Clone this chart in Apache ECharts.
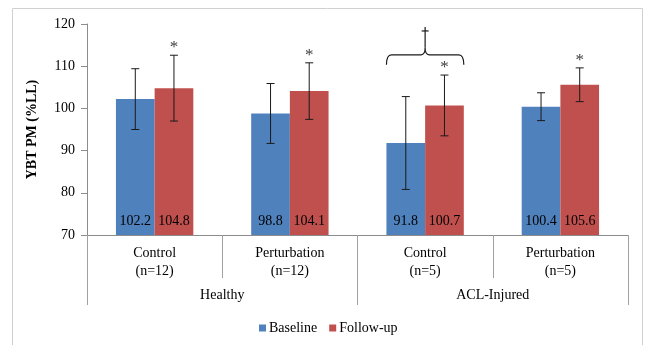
<!DOCTYPE html>
<html>
<head>
<meta charset="utf-8">
<script src="https://cdn.jsdelivr.net/npm/echarts@6/dist/echarts.min.js"></script>
<style>
  html, body { margin: 0; padding: 0; background: #fff; }
  #main { width: 646px; height: 345px; }
</style>
</head>
<body>
<div id="main"></div>
<script>
const categories = ['Control\n(n=12)', 'Perturbation\n(n=12)', 'Control\n(n=5)', 'Perturbation\n(n=5)']
const groups = ['Healthy', 'ACL-Injured']
const baseline = [102.2, 98.8, 91.8, 100.4]
const followUp = [104.8, 104.1, 100.7, 105.6]
const baselineSD = [7.2, 7.1, 11.0, 3.3]
const followUpSD = [7.8, 6.7, 7.2, 4.0]
const followUpStar = [1, 1, 1, 1]
// brace over ACL control: [category index, brace level, dagger top]
const brace = [[2, 112.7, 119.3]]

const SERIF = '"Liberation Serif", "Times New Roman", serif'
const BAR_FRAC = 0.286

const errData = []
baseline.forEach((v, i) => errData.push([i, v - baselineSD[i], v + baselineSD[i], -1, 0]))
followUp.forEach((v, i) => errData.push([i, v - followUpSD[i], v + followUpSD[i], 1, followUpStar[i]]))

function renderError (params, api) {
  const idx = api.value(0)
  const lo = api.coord([idx, api.value(1)])
  const hi = api.coord([idx, api.value(2)])
  const band = api.size([1, 0])[0]
  const x = lo[0] + api.value(3) * band * BAR_FRAC / 2
  const cap = 4
  const style = { stroke: '#1a1a1a', lineWidth: 1 }
  const children = [
    { type: 'line', shape: { x1: x, y1: hi[1], x2: x, y2: lo[1] }, style },
    { type: 'line', shape: { x1: x - cap, y1: hi[1], x2: x + cap, y2: hi[1] }, style },
    { type: 'line', shape: { x1: x - cap, y1: lo[1], x2: x + cap, y2: lo[1] }, style }
  ]
  if (api.value(4)) {
    children.push({
      type: 'text',
      style: { text: '*', x: x, y: hi[1] + 1, align: 'center', verticalAlign: 'bottom', font: '17px ' + SERIF, fill: '#404040' }
    })
  }
  return { type: 'group', children }
}

function renderBrace (params, api) {
  const idx = api.value(0)
  const p = api.coord([idx, api.value(1)])
  const top = api.coord([idx, api.value(2)])[1]
  const band = api.size([1, 0])[0]
  const cx = p[0]; const y = p[1]
  const xl = cx - band * BAR_FRAC; const xr = cx + band * BAR_FRAC
  const path = `M${xl},${y + 10} Q${xl},${y} ${xl + 5},${y} L${cx - 4},${y} Q${cx},${y} ${cx},${y - 7} ` +
    `Q${cx},${y} ${cx + 4},${y} L${xr - 5},${y} Q${xr},${y} ${xr},${y + 10}`
  const style = { stroke: '#1a1a1a', lineWidth: 1.2, fill: null }
  return {
    type: 'group',
    children: [
      { type: 'path', shape: { pathData: path }, style },
      { type: 'line', shape: { x1: cx, y1: y - 7, x2: cx, y2: top }, style },
      { type: 'line', shape: { x1: cx - 3.5, y1: top + 4, x2: cx + 3.5, y2: top + 4 }, style }
    ]
  }
}

const chart = echarts.init(document.getElementById('main'))
chart.setOption({
  animation: false,
  textStyle: { fontFamily: SERIF },
  graphic: [{
    type: 'rect',
    shape: { x: 12.5, y: 8.5, width: 630, height: 400 },
    style: { fill: null, stroke: '#d0d0d0', lineWidth: 1 },
    silent: true
  }],
  grid: { left: 87, right: 18, top: 24, bottom: 110 },
  legend: {
    data: ['Baseline', 'Follow-up'],
    top: 316,
    left: 254,
    icon: 'rect',
    itemWidth: 7,
    itemHeight: 7,
    itemGap: 12,
    textStyle: { fontFamily: SERIF, fontSize: 14, color: '#000', padding: [0, 0, 0, -2] }
  },
  xAxis: [{
    type: 'category',
    data: categories,
    axisLine: { lineStyle: { color: '#8c8c8c' } },
    axisTick: { show: true, length: 43, interval: 0, lineStyle: { color: '#a0a0a0' } },
    axisLabel: { interval: 0, margin: 9, fontSize: 14, lineHeight: 18, color: '#000', fontFamily: SERIF }
  }, {
    type: 'category',
    data: groups,
    position: 'bottom',
    axisLine: { show: false },
    axisTick: { show: true, length: 70, interval: 0, lineStyle: { color: '#a0a0a0' } },
    axisLabel: { interval: 0, margin: 53, fontSize: 14, color: '#000', fontFamily: SERIF }
  }],
  yAxis: {
    type: 'value',
    min: 70,
    max: 120,
    interval: 10,
    name: 'YBT PM (%LL)',
    nameLocation: 'middle',
    nameGap: 48,
    nameTextStyle: { fontFamily: SERIF, fontSize: 14, fontWeight: 'bold', color: '#000' },
    axisLine: { show: true, lineStyle: { color: '#8c8c8c' } },
    axisTick: { show: true, length: 6, lineStyle: { color: '#8c8c8c' } },
    axisLabel: { fontSize: 14, color: '#000', fontFamily: SERIF, margin: 12 },
    splitLine: { show: false }
  },
  series: [{
    name: 'Baseline',
    type: 'bar',
    data: baseline,
    barWidth: (BAR_FRAC * 100) + '%',
    barGap: '0%',
    itemStyle: { color: '#4F81BD' },
    label: { show: true, position: 'insideBottom', distance: 7, fontSize: 14, color: '#000', fontFamily: SERIF }
  }, {
    name: 'Follow-up',
    type: 'bar',
    data: followUp,
    barWidth: (BAR_FRAC * 100) + '%',
    barGap: '0%',
    itemStyle: { color: '#C0504D' },
    label: { show: true, position: 'insideBottom', distance: 7, fontSize: 14, color: '#000', fontFamily: SERIF }
  }, {
    type: 'custom',
    renderItem: renderError,
    data: errData,
    encode: { x: 0, y: [1, 2] },
    z: 5,
    silent: true
  }, {
    type: 'custom',
    renderItem: renderBrace,
    data: brace,
    encode: { x: 0, y: [1, 2] },
    z: 5,
    silent: true
  }]
})
</script>
</body>
</html>
